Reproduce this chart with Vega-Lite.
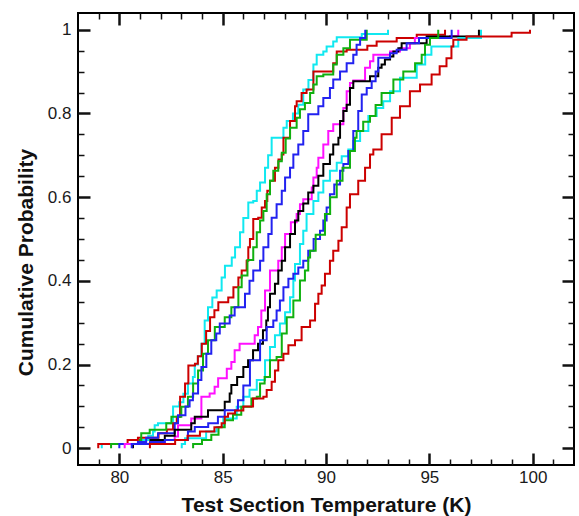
{
"$schema": "https://vega.github.io/schema/vega-lite/v6.json",
"width": 496, "height": 452,
"autosize": "none",
"padding": {"left": 78, "top": 13, "right": 5, "bottom": 51},
"background": "white",
"config": {"view": {"stroke": "black", "strokeWidth": 2}, "axis": {"domain": false, "grid": false, "tickColor": "#111111"}},
"datasets": {"d": [
{"s":"cA","x":79.15,"y":0},{"s":"cA","x":79.15,"y":0.01},{"s":"cA","x":81.0,"y":0.02},{"s":"cA","x":81.4,"y":0.03},{"s":"cA","x":81.63,"y":0.04},{"s":"cA","x":81.71,"y":0.055},{"s":"cA","x":81.87,"y":0.06},{"s":"cA","x":82.6,"y":0.1},{"s":"cA","x":82.9,"y":0.11},{"s":"cA","x":83.1,"y":0.13},{"s":"cA","x":83.32,"y":0.155},{"s":"cA","x":83.56,"y":0.17},{"s":"cA","x":83.65,"y":0.2},{"s":"cA","x":83.8,"y":0.22},{"s":"cA","x":83.97,"y":0.25},{"s":"cA","x":84.13,"y":0.305},{"s":"cA","x":84.29,"y":0.337},{"s":"cA","x":84.5,"y":0.36},{"s":"cA","x":84.71,"y":0.377},{"s":"cA","x":84.95,"y":0.408},{"s":"cA","x":85.11,"y":0.436},{"s":"cA","x":85.44,"y":0.456},{"s":"cA","x":85.6,"y":0.48},{"s":"cA","x":85.84,"y":0.516},{"s":"cA","x":86.0,"y":0.55},{"s":"cA","x":86.24,"y":0.587},{"s":"cA","x":86.48,"y":0.591},{"s":"cA","x":86.65,"y":0.615},{"s":"cA","x":86.81,"y":0.635},{"s":"cA","x":87.05,"y":0.67},{"s":"cA","x":87.2,"y":0.7},{"s":"cA","x":87.37,"y":0.742},{"s":"cA","x":87.94,"y":0.766},{"s":"cA","x":88.1,"y":0.782},{"s":"cA","x":88.4,"y":0.8},{"s":"cA","x":88.66,"y":0.821},{"s":"cA","x":88.9,"y":0.857},{"s":"cA","x":89.15,"y":0.88},{"s":"cA","x":89.39,"y":0.917},{"s":"cA","x":89.55,"y":0.94},{"s":"cA","x":89.87,"y":0.948},{"s":"cA","x":90.03,"y":0.96},{"s":"cA","x":90.35,"y":0.972},{"s":"cA","x":90.52,"y":0.982},{"s":"cA","x":91.73,"y":0.99},{"s":"cA","x":93.0,"y":1.0},
{"s":"rA","x":78.98,"y":0},{"s":"rA","x":78.98,"y":0.01},{"s":"rA","x":80.4,"y":0.02},{"s":"rA","x":80.9,"y":0.025},{"s":"rA","x":81.9,"y":0.036},{"s":"rA","x":82.3,"y":0.045},{"s":"rA","x":82.6,"y":0.06},{"s":"rA","x":82.78,"y":0.075},{"s":"rA","x":82.94,"y":0.123},{"s":"rA","x":83.18,"y":0.155},{"s":"rA","x":83.34,"y":0.198},{"s":"rA","x":83.66,"y":0.202},{"s":"rA","x":83.8,"y":0.22},{"s":"rA","x":83.99,"y":0.25},{"s":"rA","x":84.2,"y":0.28},{"s":"rA","x":84.39,"y":0.313},{"s":"rA","x":84.6,"y":0.33},{"s":"rA","x":84.79,"y":0.349},{"s":"rA","x":85.27,"y":0.36},{"s":"rA","x":85.52,"y":0.385},{"s":"rA","x":85.76,"y":0.408},{"s":"rA","x":85.92,"y":0.425},{"s":"rA","x":86.16,"y":0.448},{"s":"rA","x":86.24,"y":0.48},{"s":"rA","x":86.32,"y":0.5},{"s":"rA","x":86.48,"y":0.548},{"s":"rA","x":86.72,"y":0.551},{"s":"rA","x":86.89,"y":0.575},{"s":"rA","x":87.05,"y":0.591},{"s":"rA","x":87.16,"y":0.615},{"s":"rA","x":87.29,"y":0.639},{"s":"rA","x":87.53,"y":0.67},{"s":"rA","x":87.7,"y":0.69},{"s":"rA","x":87.86,"y":0.702},{"s":"rA","x":87.94,"y":0.742},{"s":"rA","x":88.26,"y":0.782},{"s":"rA","x":88.5,"y":0.817},{"s":"rA","x":88.58,"y":0.829},{"s":"rA","x":88.82,"y":0.849},{"s":"rA","x":89.06,"y":0.857},{"s":"rA","x":89.39,"y":0.9},{"s":"rA","x":90.35,"y":0.92},{"s":"rA","x":90.52,"y":0.948},{"s":"rA","x":91.0,"y":0.952},{"s":"rA","x":92.0,"y":0.962},{"s":"rA","x":92.45,"y":0.972},{"s":"rA","x":93.42,"y":0.98},{"s":"rA","x":94.39,"y":0.988},{"s":"rA","x":95.76,"y":1.0},
{"s":"gA","x":79.6,"y":0},{"s":"gA","x":79.6,"y":0.01},{"s":"gA","x":81.0,"y":0.02},{"s":"gA","x":81.06,"y":0.036},{"s":"gA","x":81.47,"y":0.044},{"s":"gA","x":82.27,"y":0.06},{"s":"gA","x":82.52,"y":0.075},{"s":"gA","x":83.0,"y":0.099},{"s":"gA","x":83.32,"y":0.123},{"s":"gA","x":83.57,"y":0.155},{"s":"gA","x":83.81,"y":0.186},{"s":"gA","x":84.05,"y":0.226},{"s":"gA","x":84.29,"y":0.258},{"s":"gA","x":84.62,"y":0.29},{"s":"gA","x":85.1,"y":0.313},{"s":"gA","x":85.42,"y":0.337},{"s":"gA","x":85.76,"y":0.385},{"s":"gA","x":85.92,"y":0.413},{"s":"gA","x":86.2,"y":0.45},{"s":"gA","x":86.48,"y":0.48},{"s":"gA","x":86.65,"y":0.516},{"s":"gA","x":86.81,"y":0.544},{"s":"gA","x":86.97,"y":0.567},{"s":"gA","x":87.13,"y":0.607},{"s":"gA","x":87.29,"y":0.639},{"s":"gA","x":87.45,"y":0.663},{"s":"gA","x":87.69,"y":0.686},{"s":"gA","x":87.86,"y":0.706},{"s":"gA","x":88.05,"y":0.74},{"s":"gA","x":88.26,"y":0.766},{"s":"gA","x":88.58,"y":0.79},{"s":"gA","x":88.74,"y":0.81},{"s":"gA","x":88.98,"y":0.825},{"s":"gA","x":89.23,"y":0.849},{"s":"gA","x":89.39,"y":0.869},{"s":"gA","x":89.55,"y":0.889},{"s":"gA","x":89.87,"y":0.893},{"s":"gA","x":90.35,"y":0.917},{"s":"gA","x":90.52,"y":0.94},{"s":"gA","x":90.84,"y":0.956},{"s":"gA","x":91.16,"y":0.976},{"s":"gA","x":91.97,"y":1.0},
{"s":"bA","x":80.0,"y":0},{"s":"bA","x":80.0,"y":0.01},{"s":"bA","x":80.9,"y":0.015},{"s":"bA","x":81.3,"y":0.025},{"s":"bA","x":81.87,"y":0.036},{"s":"bA","x":82.68,"y":0.06},{"s":"bA","x":82.84,"y":0.079},{"s":"bA","x":83.2,"y":0.1},{"s":"bA","x":83.4,"y":0.115},{"s":"bA","x":83.56,"y":0.131},{"s":"bA","x":83.81,"y":0.163},{"s":"bA","x":83.97,"y":0.194},{"s":"bA","x":84.21,"y":0.226},{"s":"bA","x":84.45,"y":0.258},{"s":"bA","x":84.69,"y":0.274},{"s":"bA","x":84.86,"y":0.298},{"s":"bA","x":85.34,"y":0.317},{"s":"bA","x":85.58,"y":0.337},{"s":"bA","x":86.08,"y":0.369},{"s":"bA","x":86.3,"y":0.4},{"s":"bA","x":86.48,"y":0.425},{"s":"bA","x":86.81,"y":0.448},{"s":"bA","x":86.97,"y":0.48},{"s":"bA","x":87.21,"y":0.512},{"s":"bA","x":87.37,"y":0.551},{"s":"bA","x":87.61,"y":0.583},{"s":"bA","x":87.86,"y":0.615},{"s":"bA","x":88.02,"y":0.647},{"s":"bA","x":88.26,"y":0.67},{"s":"bA","x":88.42,"y":0.702},{"s":"bA","x":88.66,"y":0.726},{"s":"bA","x":88.9,"y":0.758},{"s":"bA","x":89.14,"y":0.798},{"s":"bA","x":89.63,"y":0.817},{"s":"bA","x":89.87,"y":0.837},{"s":"bA","x":90.19,"y":0.861},{"s":"bA","x":90.35,"y":0.881},{"s":"bA","x":90.68,"y":0.9},{"s":"bA","x":91.0,"y":0.92},{"s":"bA","x":91.32,"y":0.94},{"s":"bA","x":91.48,"y":0.964},{"s":"bA","x":91.65,"y":0.98},{"s":"bA","x":91.9,"y":1.0},
{"s":"m","x":80.26,"y":0},{"s":"m","x":80.26,"y":0.01},{"s":"m","x":81.47,"y":0.012},{"s":"m","x":82.2,"y":0.02},{"s":"m","x":82.68,"y":0.028},{"s":"m","x":82.84,"y":0.055},{"s":"m","x":83.48,"y":0.071},{"s":"m","x":83.97,"y":0.123},{"s":"m","x":84.37,"y":0.131},{"s":"m","x":84.61,"y":0.147},{"s":"m","x":84.78,"y":0.167},{"s":"m","x":85.2,"y":0.19},{"s":"m","x":85.42,"y":0.206},{"s":"m","x":85.58,"y":0.234},{"s":"m","x":85.82,"y":0.25},{"s":"m","x":86.55,"y":0.27},{"s":"m","x":86.71,"y":0.29},{"s":"m","x":86.87,"y":0.329},{"s":"m","x":87.05,"y":0.377},{"s":"m","x":87.29,"y":0.425},{"s":"m","x":87.69,"y":0.448},{"s":"m","x":87.86,"y":0.48},{"s":"m","x":88.02,"y":0.512},{"s":"m","x":88.3,"y":0.54},{"s":"m","x":88.58,"y":0.56},{"s":"m","x":88.74,"y":0.583},{"s":"m","x":88.9,"y":0.595},{"s":"m","x":89.31,"y":0.623},{"s":"m","x":89.39,"y":0.647},{"s":"m","x":89.55,"y":0.67},{"s":"m","x":89.63,"y":0.694},{"s":"m","x":89.87,"y":0.726},{"s":"m","x":90.11,"y":0.758},{"s":"m","x":90.35,"y":0.774},{"s":"m","x":90.84,"y":0.813},{"s":"m","x":91.0,"y":0.853},{"s":"m","x":91.16,"y":0.873},{"s":"m","x":91.32,"y":0.879},{"s":"m","x":91.89,"y":0.909},{"s":"m","x":92.13,"y":0.925},{"s":"m","x":92.29,"y":0.94},{"s":"m","x":93.1,"y":0.948},{"s":"m","x":93.58,"y":0.956},{"s":"m","x":94.06,"y":0.968},{"s":"m","x":94.3,"y":0.98},{"s":"m","x":96.0,"y":0.985},{"s":"m","x":96.4,"y":1.0},
{"s":"k","x":80.66,"y":0},{"s":"k","x":80.66,"y":0.01},{"s":"k","x":81.5,"y":0.02},{"s":"k","x":82.2,"y":0.03},{"s":"k","x":82.68,"y":0.044},{"s":"k","x":83.48,"y":0.06},{"s":"k","x":83.65,"y":0.075},{"s":"k","x":84.29,"y":0.091},{"s":"k","x":85.1,"y":0.111},{"s":"k","x":85.34,"y":0.131},{"s":"k","x":85.42,"y":0.151},{"s":"k","x":85.7,"y":0.17},{"s":"k","x":86.0,"y":0.194},{"s":"k","x":86.23,"y":0.21},{"s":"k","x":86.47,"y":0.234},{"s":"k","x":86.71,"y":0.25},{"s":"k","x":86.95,"y":0.282},{"s":"k","x":87.11,"y":0.305},{"s":"k","x":87.19,"y":0.337},{"s":"k","x":87.29,"y":0.369},{"s":"k","x":87.53,"y":0.393},{"s":"k","x":87.69,"y":0.425},{"s":"k","x":87.86,"y":0.448},{"s":"k","x":88.02,"y":0.48},{"s":"k","x":88.26,"y":0.512},{"s":"k","x":88.5,"y":0.544},{"s":"k","x":88.66,"y":0.567},{"s":"k","x":88.9,"y":0.585},{"s":"k","x":89.14,"y":0.611},{"s":"k","x":89.39,"y":0.627},{"s":"k","x":89.63,"y":0.651},{"s":"k","x":89.87,"y":0.679},{"s":"k","x":90.19,"y":0.702},{"s":"k","x":90.35,"y":0.726},{"s":"k","x":90.6,"y":0.742},{"s":"k","x":90.68,"y":0.782},{"s":"k","x":90.84,"y":0.806},{"s":"k","x":91.0,"y":0.821},{"s":"k","x":91.16,"y":0.861},{"s":"k","x":91.32,"y":0.877},{"s":"k","x":92.13,"y":0.889},{"s":"k","x":92.53,"y":0.909},{"s":"k","x":92.69,"y":0.917},{"s":"k","x":92.85,"y":0.929},{"s":"k","x":93.1,"y":0.936},{"s":"k","x":93.26,"y":0.948},{"s":"k","x":93.5,"y":0.956},{"s":"k","x":93.66,"y":0.968},{"s":"k","x":94.87,"y":0.984},{"s":"k","x":97.4,"y":1.0},
{"s":"cB","x":83.02,"y":0},{"s":"cB","x":83.02,"y":0.01},{"s":"cB","x":83.18,"y":0.024},{"s":"cB","x":84.2,"y":0.04},{"s":"cB","x":84.71,"y":0.051},{"s":"cB","x":85.03,"y":0.071},{"s":"cB","x":85.68,"y":0.099},{"s":"cB","x":86.0,"y":0.123},{"s":"cB","x":86.3,"y":0.14},{"s":"cB","x":86.65,"y":0.163},{"s":"cB","x":87.05,"y":0.21},{"s":"cB","x":87.29,"y":0.242},{"s":"cB","x":87.53,"y":0.27},{"s":"cB","x":87.77,"y":0.298},{"s":"cB","x":88.02,"y":0.325},{"s":"cB","x":88.26,"y":0.361},{"s":"cB","x":88.42,"y":0.401},{"s":"cB","x":88.5,"y":0.44},{"s":"cB","x":88.74,"y":0.488},{"s":"cB","x":88.9,"y":0.52},{"s":"cB","x":89.06,"y":0.56},{"s":"cB","x":89.39,"y":0.591},{"s":"cB","x":89.63,"y":0.611},{"s":"cB","x":89.87,"y":0.639},{"s":"cB","x":90.19,"y":0.663},{"s":"cB","x":90.52,"y":0.682},{"s":"cB","x":90.76,"y":0.698},{"s":"cB","x":91.08,"y":0.714},{"s":"cB","x":91.32,"y":0.734},{"s":"cB","x":91.65,"y":0.758},{"s":"cB","x":92.05,"y":0.794},{"s":"cB","x":92.45,"y":0.813},{"s":"cB","x":92.77,"y":0.829},{"s":"cB","x":93.1,"y":0.853},{"s":"cB","x":93.58,"y":0.885},{"s":"cB","x":94.39,"y":0.917},{"s":"cB","x":94.8,"y":0.94},{"s":"cB","x":95.1,"y":0.96},{"s":"cB","x":96.4,"y":0.98},{"s":"cB","x":97.5,"y":1.0},
{"s":"bB","x":80.6,"y":0},{"s":"bB","x":80.6,"y":0.01},{"s":"bB","x":81.5,"y":0.015},{"s":"bB","x":82.2,"y":0.02},{"s":"bB","x":83.32,"y":0.04},{"s":"bB","x":83.65,"y":0.051},{"s":"bB","x":84.3,"y":0.06},{"s":"bB","x":84.77,"y":0.075},{"s":"bB","x":85.1,"y":0.091},{"s":"bB","x":85.74,"y":0.115},{"s":"bB","x":86.0,"y":0.15},{"s":"bB","x":86.32,"y":0.21},{"s":"bB","x":86.81,"y":0.258},{"s":"bB","x":87.13,"y":0.29},{"s":"bB","x":87.45,"y":0.305},{"s":"bB","x":87.61,"y":0.329},{"s":"bB","x":87.77,"y":0.353},{"s":"bB","x":87.94,"y":0.385},{"s":"bB","x":88.18,"y":0.405},{"s":"bB","x":88.42,"y":0.417},{"s":"bB","x":88.66,"y":0.432},{"s":"bB","x":88.9,"y":0.448},{"s":"bB","x":89.14,"y":0.472},{"s":"bB","x":89.4,"y":0.5},{"s":"bB","x":89.71,"y":0.52},{"s":"bB","x":89.87,"y":0.544},{"s":"bB","x":90.03,"y":0.575},{"s":"bB","x":90.19,"y":0.607},{"s":"bB","x":90.4,"y":0.63},{"s":"bB","x":90.68,"y":0.663},{"s":"bB","x":90.84,"y":0.679},{"s":"bB","x":91.08,"y":0.71},{"s":"bB","x":91.32,"y":0.758},{"s":"bB","x":91.56,"y":0.806},{"s":"bB","x":91.73,"y":0.845},{"s":"bB","x":91.97,"y":0.861},{"s":"bB","x":92.21,"y":0.877},{"s":"bB","x":92.4,"y":0.9},{"s":"bB","x":92.53,"y":0.933},{"s":"bB","x":93.1,"y":0.944},{"s":"bB","x":93.42,"y":0.952},{"s":"bB","x":93.9,"y":0.968},{"s":"bB","x":94.5,"y":0.98},{"s":"bB","x":96.08,"y":1.0},
{"s":"gB","x":83.57,"y":0},{"s":"gB","x":83.57,"y":0.01},{"s":"gB","x":84.0,"y":0.02},{"s":"gB","x":84.45,"y":0.032},{"s":"gB","x":84.8,"y":0.05},{"s":"gB","x":85.1,"y":0.067},{"s":"gB","x":85.5,"y":0.08},{"s":"gB","x":85.9,"y":0.099},{"s":"gB","x":86.39,"y":0.119},{"s":"gB","x":86.65,"y":0.123},{"s":"gB","x":86.81,"y":0.155},{"s":"gB","x":87.03,"y":0.17},{"s":"gB","x":87.29,"y":0.21},{"s":"gB","x":87.61,"y":0.218},{"s":"gB","x":87.86,"y":0.274},{"s":"gB","x":88.1,"y":0.313},{"s":"gB","x":88.42,"y":0.353},{"s":"gB","x":88.74,"y":0.401},{"s":"gB","x":88.98,"y":0.425},{"s":"gB","x":89.14,"y":0.456},{"s":"gB","x":89.23,"y":0.472},{"s":"gB","x":89.5,"y":0.51},{"s":"gB","x":89.95,"y":0.56},{"s":"gB","x":90.2,"y":0.6},{"s":"gB","x":90.52,"y":0.639},{"s":"gB","x":90.8,"y":0.67},{"s":"gB","x":91.16,"y":0.71},{"s":"gB","x":91.4,"y":0.742},{"s":"gB","x":91.48,"y":0.758},{"s":"gB","x":91.8,"y":0.78},{"s":"gB","x":92.13,"y":0.794},{"s":"gB","x":92.4,"y":0.82},{"s":"gB","x":92.69,"y":0.849},{"s":"gB","x":93.26,"y":0.881},{"s":"gB","x":93.74,"y":0.9},{"s":"gB","x":94.31,"y":0.92},{"s":"gB","x":94.63,"y":0.94},{"s":"gB","x":94.79,"y":0.964},{"s":"gB","x":95.03,"y":0.98},{"s":"gB","x":95.43,"y":1.0},
{"s":"rB","x":81.48,"y":0},{"s":"rB","x":81.48,"y":0.01},{"s":"rB","x":82.7,"y":0.02},{"s":"rB","x":83.3,"y":0.03},{"s":"rB","x":83.9,"y":0.04},{"s":"rB","x":84.6,"y":0.05},{"s":"rB","x":84.95,"y":0.06},{"s":"rB","x":85.1,"y":0.075},{"s":"rB","x":85.26,"y":0.083},{"s":"rB","x":85.6,"y":0.09},{"s":"rB","x":86.0,"y":0.1},{"s":"rB","x":86.47,"y":0.119},{"s":"rB","x":86.97,"y":0.123},{"s":"rB","x":87.13,"y":0.139},{"s":"rB","x":87.37,"y":0.159},{"s":"rB","x":87.53,"y":0.186},{"s":"rB","x":87.69,"y":0.21},{"s":"rB","x":87.94,"y":0.226},{"s":"rB","x":88.18,"y":0.246},{"s":"rB","x":88.5,"y":0.258},{"s":"rB","x":88.82,"y":0.29},{"s":"rB","x":89.23,"y":0.305},{"s":"rB","x":89.47,"y":0.345},{"s":"rB","x":89.63,"y":0.369},{"s":"rB","x":89.79,"y":0.389},{"s":"rB","x":89.95,"y":0.417},{"s":"rB","x":90.19,"y":0.448},{"s":"rB","x":90.35,"y":0.472},{"s":"rB","x":90.6,"y":0.496},{"s":"rB","x":90.76,"y":0.528},{"s":"rB","x":91.0,"y":0.575},{"s":"rB","x":91.16,"y":0.607},{"s":"rB","x":91.56,"y":0.639},{"s":"rB","x":91.89,"y":0.67},{"s":"rB","x":92.13,"y":0.702},{"s":"rB","x":92.29,"y":0.714},{"s":"rB","x":92.69,"y":0.75},{"s":"rB","x":93.18,"y":0.79},{"s":"rB","x":93.58,"y":0.817},{"s":"rB","x":94.06,"y":0.853},{"s":"rB","x":94.55,"y":0.869},{"s":"rB","x":95.11,"y":0.893},{"s":"rB","x":95.5,"y":0.913},{"s":"rB","x":95.83,"y":0.932},{"s":"rB","x":96.07,"y":0.96},{"s":"rB","x":96.16,"y":0.976},{"s":"rB","x":96.8,"y":0.984},{"s":"rB","x":98.98,"y":0.993},{"s":"rB","x":99.87,"y":1.0}
]},
"data": {"name": "d"},
"layer": [
{
"mark": {"type": "line", "interpolate": "step-after", "strokeWidth": 2, "clip": true},
"encoding": {
"x": {"field": "x", "type": "quantitative", "scale": {"domain": [78, 102], "nice": false, "zero": false},
"axis": {"orient": "bottom", "values": [80,85,90,95,100], "tickSize": -12, "tickWidth": 2.5,
"labelPadding": 16, "labelFont": "Liberation Sans", "labelFontSize": 17, "labelColor": "#1a1a1a",
"labelOverlap": false, "labelFlush": false, "labelBound": false,
"title": "Test Section Temperature (K)", "titleFont": "Liberation Sans", "titleFontSize": 21, "titleFontWeight": "bold", "titleColor": "#111111",
"titleBaseline": "alphabetic", "titleY": 46}},
"y": {"field": "y", "type": "quantitative", "scale": {"domain": [-0.04, 1.04], "nice": false, "zero": false},
"axis": {"orient": "left", "values": [0,0.2,0.4,0.6,0.8,1], "tickSize": -12, "tickWidth": 2.5,
"labelPadding": 19, "labelFont": "Liberation Sans", "labelFontSize": 17, "labelColor": "#1a1a1a",
"labelExpr": "toString(round(datum.value*10)/10)", "labelOverlap": false, "labelFlush": false, "labelBound": false,
"title": "Cumulative Probability", "titleFont": "Liberation Sans", "titleFontSize": 21, "titleFontWeight": "bold", "titleColor": "#111111",
"titleAngle": 270, "titleBaseline": "middle", "titleAlign": "center", "titleX": -52, "titleY": 249}},
"color": {"field": "s", "type": "nominal", "legend": null,
"scale": {"domain": ["rB","gB","bB","cB","k","m","bA","gA","rA","cA"], "range": ["#cc0000","#10b010","#2222f0","#10e8f0","#000000","#ff10ff","#2222f0","#10b010","#cc0000","#10e8f0"]}}
}
},
{
"mark": {"type": "point", "opacity": 0},
"encoding": {
"x": {"field": "x", "type": "quantitative", "scale": {"domain": [78, 102], "nice": false, "zero": false},
"axis": {"orient": "top", "values": [80,85,90,95,100], "tickSize": -12, "tickWidth": 2.5, "labels": false, "title": null}},
"y": {"field": "y", "type": "quantitative", "scale": {"domain": [-0.04, 1.04], "nice": false, "zero": false},
"axis": {"orient": "right", "values": [0,0.2,0.4,0.6,0.8,1], "tickSize": -12, "tickWidth": 2.5, "labels": false, "title": null}}
}
},
{
"mark": {"type": "point", "opacity": 0},
"encoding": {
"x": {"field": "x", "type": "quantitative", "scale": {"domain": [78, 102], "nice": false, "zero": false},
"axis": {"orient": "bottom", "values": [79,81,82,83,84,86,87,88,89,91,92,93,94,96,97,98,99,101], "tickSize": -6, "tickWidth": 1.5, "labels": false, "title": null}},
"y": {"field": "y", "type": "quantitative", "scale": {"domain": [-0.04, 1.04], "nice": false, "zero": false},
"axis": {"orient": "left", "values": [0.05,0.1,0.15,0.25,0.3,0.35,0.45,0.5,0.55,0.65,0.7,0.75,0.85,0.9,0.95], "tickSize": -6, "tickWidth": 1.5, "labels": false, "title": null}}
}
},
{
"mark": {"type": "point", "opacity": 0},
"encoding": {
"x": {"field": "x", "type": "quantitative", "scale": {"domain": [78, 102], "nice": false, "zero": false},
"axis": {"orient": "top", "values": [79,81,82,83,84,86,87,88,89,91,92,93,94,96,97,98,99,101], "tickSize": -6, "tickWidth": 1.5, "labels": false, "title": null}},
"y": {"field": "y", "type": "quantitative", "scale": {"domain": [-0.04, 1.04], "nice": false, "zero": false},
"axis": {"orient": "right", "values": [0.05,0.1,0.15,0.25,0.3,0.35,0.45,0.5,0.55,0.65,0.7,0.75,0.85,0.9,0.95], "tickSize": -6, "tickWidth": 1.5, "labels": false, "title": null}}
}
}
],
"resolve": {"axis": {"x": "independent", "y": "independent"}}
}
